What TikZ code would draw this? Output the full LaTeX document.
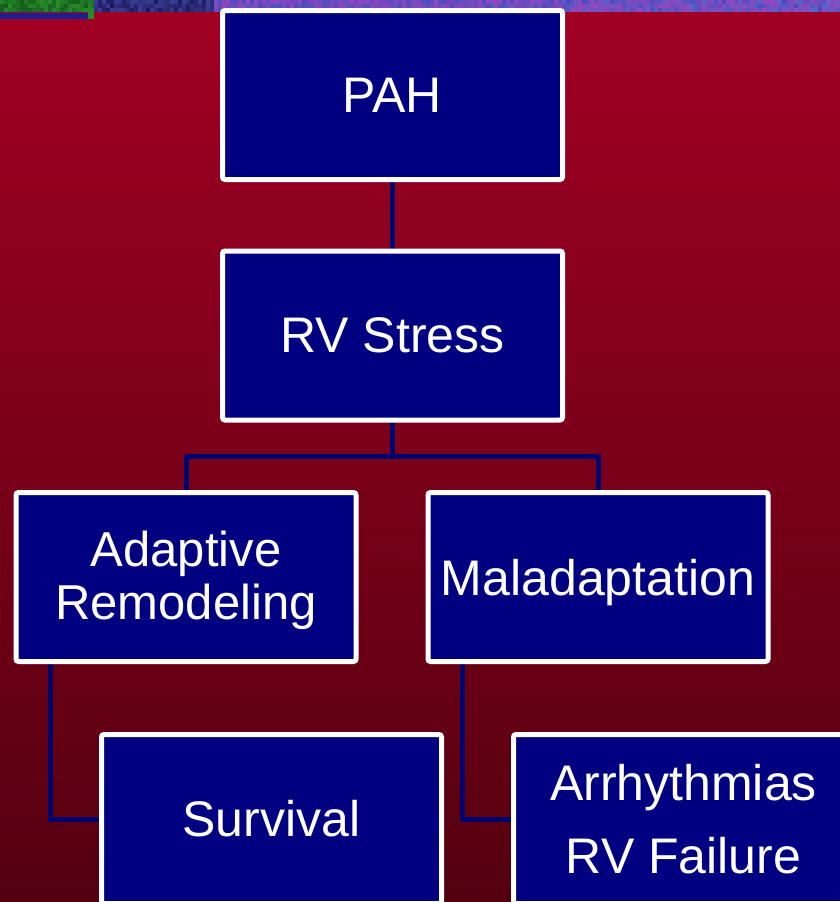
\documentclass[tikz,border=0pt]{standalone}
\usepackage{fontspec}
\setmainfont{Liberation Sans}
\usetikzlibrary{calc}
\definecolor{navybox}{RGB}{0,0,128}
\definecolor{navyline}{RGB}{0,0,110}
\definecolor{redtop}{RGB}{162,0,36}
\definecolor{redbot}{RGB}{84,0,16}
\definecolor{nzA}{RGB}{70,70,190}
\definecolor{nzB}{RGB}{150,70,190}
\definecolor{nzC}{RGB}{80,170,225}
\definecolor{nzD}{RGB}{25,25,90}
\definecolor{nzE}{RGB}{60,60,150}
\definecolor{grA}{RGB}{40,140,40}
\definecolor{grB}{RGB}{20,90,30}
\definecolor{barblue}{RGB}{30,30,140}
\pgfdeclarelayer{bg}
\pgfdeclarelayer{conn}
\pgfsetlayers{bg,conn,main}
\begin{document}
\begin{tikzpicture}[x=1pt,y=-1pt,
  box/.style={draw=white,line width=5pt,fill=navybox,text=white,rounded corners=2.5pt,
    minimum width=340pt,minimum height=169pt,inner sep=0pt,outer sep=0pt,align=center,
    font=\fontsize{50}{60}\selectfont},
  link/.style={draw=navyline,line width=5pt}]
\useasboundingbox (0,0) rectangle (840,902);
\node[box] (pah) at (392.5,95) {PAH};
\node[box] (rv) at (392.5,335.5) {RV Stress};
\node[box,font=\fontsize{49}{53}\selectfont,text depth=4pt] (adapt) at (186,577) {Adaptive\\Remodeling};
\node[box,text depth=0pt] (mal) at (598,577) {Maladaptation};
\node[box] (surv) at (271.5,819) {Survival};
\node[box] (arr) at (683.5,819) {Arrhythmias\\[13pt]RV Failure};
\begin{pgfonlayer}{conn}
  \coordinate (split) at ($(rv.south)+(0,36)$);
  \draw[link] (pah.south) -- (rv.north);
  \draw[link] (rv.south) -- (split);
  \draw[link] (split) -| (adapt.north);
  \draw[link] (split) -| (mal.north);
  \draw[link] ($(adapt.south west)+(34,0)$) |- (surv.west);
  \draw[link] ($(mal.south west)+(34,0)$) |- (arr.west);
\end{pgfonlayer}
\begin{pgfonlayer}{bg}
  \shade[top color=redtop,bottom color=redbot] (0,0) rectangle (840,902);
  \pgfmathsetseed{7}
  \foreach \x in {0,4,...,92}{
    \foreach \y in {0,4,8}{
      \pgfmathsetmacro\a{int(100*rnd)}
      \fill[grA!\a!grB] (\x,\y) rectangle ++(4,4);
    }
  }
  \foreach \x in {94,98,...,210}{
    \foreach \y in {0,4,8}{
      \pgfmathsetmacro\a{int(100*rnd)}
      \fill[nzD!\a!nzE] (\x,\y) rectangle ++(4,4);
    }
  }
  \foreach \x in {214,218,...,838}{
    \foreach \y in {0,4,8}{
      \pgfmathsetmacro\a{int(100*rnd)}
      \pgfmathsetmacro\b{int(45*rnd*(\x/840))}
      \fill[nzC!\b!nzA!\a!nzB] (\x,\y) rectangle ++(4,4);
    }
  }
  \fill[barblue] (0,13) rectangle (88,19);
  \fill[grA] (88,12) rectangle (94,19);
\end{pgfonlayer}
\end{tikzpicture}
\end{document}
